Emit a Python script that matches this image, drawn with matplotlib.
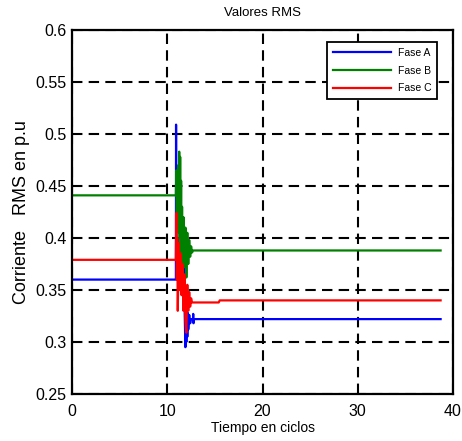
import matplotlib
matplotlib.use("Agg")
import matplotlib.pyplot as plt

plt.rcParams['font.family'] = ['Liberation Sans', 'DejaVu Sans']

# Phase A (blue)
t_a = [0, 10.9, 10.92, 10.95, 11.0, 11.05, 11.1, 11.2, 11.3, 11.4, 11.5, 11.6, 11.7, 11.8,
       11.9, 11.95, 12.0, 12.05, 12.1, 12.15, 12.2, 12.3, 12.4, 12.5, 12.7, 12.72, 12.75, 12.78, 38.7]
v_a = [0.360, 0.360, 0.509, 0.370, 0.395, 0.375, 0.400, 0.380, 0.395, 0.378, 0.392, 0.380, 0.390, 0.340,
       0.295, 0.330, 0.300, 0.332, 0.305, 0.328, 0.312, 0.326, 0.318, 0.322, 0.322, 0.327, 0.318, 0.322, 0.322]

# Phase B (green)
t_b = [0, 10.9, 10.95, 11.0, 11.05, 11.1, 11.15, 11.2, 11.25, 11.3, 11.35, 11.4, 11.45, 11.5, 11.55,
       11.6, 11.7, 11.8, 11.9, 12.0, 12.1, 12.2, 12.3, 12.4, 12.5, 12.6, 12.7, 38.7]
v_b = [0.441, 0.441, 0.465, 0.415, 0.462, 0.410, 0.470, 0.405, 0.483, 0.400, 0.478, 0.395, 0.455, 0.380, 0.430,
       0.370, 0.420, 0.372, 0.410, 0.362, 0.405, 0.375, 0.398, 0.382, 0.392, 0.386, 0.388, 0.388]

# Phase C (red)
t_c = [0, 10.9, 10.95, 11.0, 11.05, 11.1, 11.2, 11.3, 11.4, 11.5, 11.6, 11.7, 11.8, 11.9,
       12.0, 12.1, 12.2, 12.3, 12.4, 12.5, 12.6, 15.4, 15.5, 38.7]
v_c = [0.379, 0.379, 0.424, 0.360, 0.400, 0.330, 0.395, 0.350, 0.385, 0.345, 0.375, 0.330, 0.365, 0.320,
       0.309, 0.355, 0.330, 0.348, 0.334, 0.342, 0.338, 0.338, 0.340, 0.340]

labels = ['Fase A', 'Fase B', 'Fase C']
colors = ['#0000ff', '#008000', '#ff0000']

xticks = [0, 10, 20, 30, 40]
yticks = [0.25, 0.3, 0.35, 0.4, 0.45, 0.5, 0.55, 0.6]
ytick_labels = ['0.25', '0.3', '0.35', '0.4', '0.45', '0.5', '0.55', '0.6']

fig = plt.figure(figsize=(4.62, 4.41), dpi=100)
fig.patch.set_facecolor('white')
ax = fig.add_axes([0.156, 0.1066, 0.8245, 0.8254])

for t, v, lab, c in zip([t_a, t_b, t_c], [v_a, v_b, v_c], labels, colors):
    ax.plot(t, v, color=c, lw=1.6, label=lab)

ax.set_xlim(0, 40)
ax.set_ylim(0.25, 0.6)
ax.set_xticks(xticks)
ax.set_yticks(yticks)
ax.set_yticklabels(ytick_labels)
ax.grid(True, color='black', linestyle=(0, (5, 3)), linewidth=1.5)
ax.tick_params(direction='in', length=4, width=1.2, labelsize=11.5, colors='black')
ax.tick_params(axis='x', pad=7)
ax.tick_params(axis='y', pad=4)
for s in ax.spines.values():
    s.set_linewidth(1.6)

ax.set_title('Valores RMS', fontsize=9.5, pad=10)
ax.set_xlabel('Tiempo en ciclos', fontsize=10, labelpad=2)
ax.set_ylabel('Corriente   RMS en p.u', fontsize=13, labelpad=4)

leg = ax.legend(loc='upper right', bbox_to_anchor=(0.958, 0.967), fontsize=7.5, frameon=True,
                fancybox=False, edgecolor='black', framealpha=1, borderaxespad=0,
                handlelength=5.6, handletextpad=0.6, labelspacing=0.75,
                borderpad=0.55)
leg.get_frame().set_linewidth(1.3)

fig.savefig('out.png', dpi=100, facecolor='white')
